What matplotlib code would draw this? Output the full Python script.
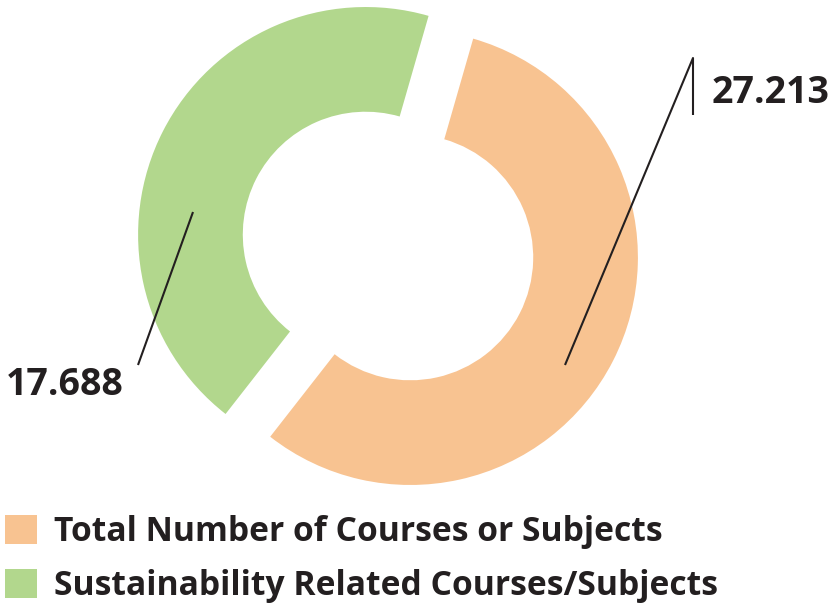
import matplotlib
matplotlib.use('Agg')
import matplotlib.pyplot as plt
from matplotlib.patches import Patch

# Data
categories = ['Total Number of Courses or Subjects',
              'Sustainability Related Courses/Subjects']
value_labels = ['27.213', '17.688']
# share of the ring each slice takes in the picture (percent)
slice_share = [56.1, 43.9]
colors = ['#f8c391', '#b2d78d']
text_color = '#231f20'

plt.rcParams['font.family'] = ['Open Sans', 'DejaVu Sans']

W, H = 834, 605
# ring centre and outer radius in pixels
CX, CY, R = 388, 246, 227.6


def px(x, y):
    # pixel position -> data coords (radius = 1)
    return (x - CX) / R, (CY - y) / R


fig = plt.figure(figsize=(W / 100, H / 100), dpi=100)
ax = fig.add_axes([0, 0, 1, 1])

ax.pie(slice_share, colors=colors, startangle=-128, counterclock=True,
       explode=[0.11, 0.11], radius=1,
       wedgeprops=dict(width=0.46, linewidth=0))

ax.set_xlim(-CX / R, (W - CX) / R)
ax.set_ylim(-(H - CY) / R, CY / R)
ax.set_aspect('equal')
ax.axis('off')

# leader lines
line_kw = dict(color=text_color, linewidth=1.5, solid_capstyle='butt')
x0, y0 = px(565, 365)
x1, y1 = px(693, 58)
x2, y2 = px(693, 115)
ax.plot([x0, x1, x2], [y0, y1, y2], **line_kw)
x0, y0 = px(193, 212)
x1, y1 = px(138, 365)
ax.plot([x0, x1], [y0, y1], **line_kw)

# value labels
tx, ty = px(712, 103)
ax.text(tx, ty, value_labels[0], fontsize=27, fontweight='bold',
        color=text_color, ha='left', va='baseline')
tx, ty = px(6, 395)
ax.text(tx, ty, value_labels[1], fontsize=27, fontweight='bold',
        color=text_color, ha='left', va='baseline')

# legend
handles = [Patch(facecolor=c, edgecolor='none') for c in colors]
fig.legend(handles, categories, loc='lower left',
           bbox_to_anchor=(5 / W, 2 / H), frameon=False,
           prop=dict(size=24.2, weight='bold'), labelcolor=text_color,
           handlelength=0.96, handleheight=0.96, handletextpad=0.5,
           labelspacing=0.6, borderpad=0, borderaxespad=0)

fig.savefig('out.png', dpi=100)
